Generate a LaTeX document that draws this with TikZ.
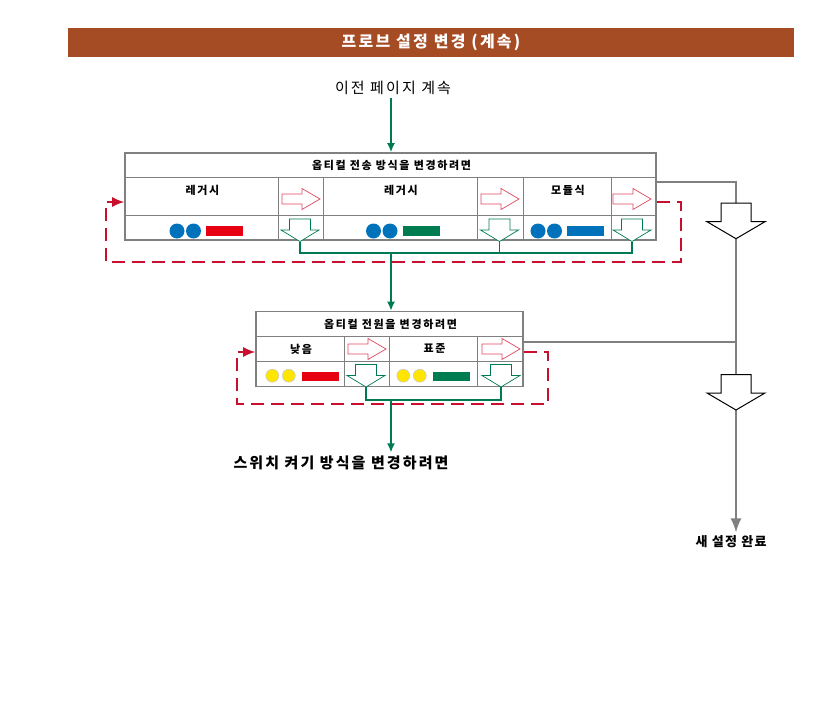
\documentclass[tikz,border=0pt]{standalone}
\usepackage{fontspec}
\setmainfont{Noto Sans CJK KR}
\usetikzlibrary{arrows.meta,positioning}
\definecolor{headerBrown}{RGB}{166,76,36}
\definecolor{boxGray}{RGB}{128,128,128}
\definecolor{hollowRed}{RGB}{222,72,96}
\definecolor{flowGreen}{RGB}{0,122,84}
\definecolor{loopRed}{RGB}{200,16,46}
\definecolor{dotBlue}{RGB}{0,114,188}
\definecolor{barRed}{RGB}{230,0,18}
\definecolor{barGreen}{RGB}{0,125,80}
\definecolor{dotYellow}{RGB}{255,230,0}

\begin{document}
\begin{tikzpicture}[
  x=1pt, y=-1pt,
  >=Latex,
  header/.style={fill=headerBrown, text=white, inner sep=0pt, minimum width=726pt,
    minimum height=29pt,
    font=\bfseries\fontsize{16}{18}\selectfont\addfontfeature{LetterSpace=14}},
  note/.style={font=\fontsize{15}{17}\selectfont\addfontfeature{LetterSpace=14}},
  bignote/.style={font=\bfseries\fontsize{15}{17}\selectfont\addfontfeature{LetterSpace=14}},
  endnote/.style={font=\bfseries\fontsize{13}{15}\selectfont\addfontfeature{LetterSpace=10}},
  panel/.style={draw=boxGray, line width=1.6pt, inner sep=0pt},
  grid/.style={draw=boxGray, line width=0.9pt},
  head/.style={font=\bfseries\fontsize{11}{13}\selectfont\addfontfeature{LetterSpace=15}},
  cell/.style={font=\bfseries\fontsize{11}{13}\selectfont\addfontfeature{LetterSpace=15}},
  link/.style={draw=flowGreen, line width=1.6pt},
  linkarrow/.style={link, -{Latex[length=9pt,width=8pt]}},
  loopback/.style={draw=loopRed, line width=1.6pt, dash pattern=on 13pt off 7pt,
    -{Latex[length=12pt,width=10pt]}},
  outlet/.style={draw=boxGray, line width=1.6pt},
  hollowR/.style={draw=hollowRed, fill=white, line width=0.7pt},
  hollowD/.style={draw=flowGreen, fill=white, line width=0.7pt},
  bigD/.style={draw=black, fill=white, line width=1pt},
  rhollow/.pic={\draw[hollowR] (-19,-5) -- (1,-5) -- (1,-10.5) -- (19,0) -- (1,10.5)
    -- (1,5) -- (-19,5) -- cycle;},
  dhollow/.pic={\draw[hollowD] (-10.5,-11) -- (10.5,-11) -- (10.5,0) -- (19,0)
    -- (0,11.5) -- (-19,0) -- (-10.5,0) -- cycle;},
  bighollow/.pic={\draw[bigD] (-15,-18.5) -- (15,-18.5) -- (15,0) -- (29,0)
    -- (0,17) -- (-29,0) -- (-15,0) -- cycle;}
]
\useasboundingbox (0,0) rectangle (839,709);

% Title bar.
\node[header] (hdr) at (431,42.5) {프로브 설정 변경 (계속)};
\node[note] (prev) at (393,88) {이전 페이지 계속};

% Transmission mode panel.
\node[panel, minimum width=531pt, minimum height=87pt] (optbox) at (390.5,196.5) {};
\draw[grid] (125,177) -- (656,177) (125,215) -- (656,215);
\foreach \gx in {278,323,477,523,611}
  \draw[grid] (\gx,177) -- (\gx,240);
\node[head] (optttl) at (391.5,165) {옵티컬 전송 방식을 변경하려면};
\node[cell] (lgc1) at (202.5,190) {레거시};
\node[cell] (lgc2) at (401,190) {레거시};
\node[cell] (mod) at (568,190) {모듈식};
\pic at (301,199) {rhollow};
\pic at (500,199) {rhollow};
\pic at (632,199) {rhollow};
\pic at (300,230) {dhollow};
\pic at (499.5,230) {dhollow};
\pic at (632,230) {dhollow};

% Indicator lamps.
\foreach \cx/\bar in {177/barRed,373.5/barGreen,538/dotBlue} {
  \fill[dotBlue] (\cx,231) circle (7.5) (\cx+16.5,231) circle (7.5);
  \fill[\bar] (\cx+29,226) rectangle (\cx+66,236);
}

% Power panel.
\node[panel, minimum width=267pt, minimum height=75pt] (pwrbox) at (389.5,349) {};
\draw[grid] (256,336.7) -- (523,336.7) (256,361.7) -- (523,361.7);
\foreach \gx in {344.3,389.3,477.7}
  \draw[grid] (\gx,336.7) -- (\gx,386.5);
\node[head] (pwrttl) at (390.5,324) {옵티컬 전원을 변경하려면};
\node[cell] (low) at (301,349) {낮음};
\node[cell] (std) at (434.5,349) {표준};
\pic at (367,349) {rhollow};
\pic at (501,349) {rhollow};
\pic at (366,375.5) {dhollow};
\pic at (501,375.5) {dhollow};
\foreach \cx/\bar in {272.3/barRed,403.3/barGreen} {
  \filldraw[fill=dotYellow, draw=black!20, line width=0.6pt]
    (\cx,375.7) circle (6.5) (\cx+16.5,375.7) circle (6.5);
  \fill[\bar] (\cx+29.5,371.5) rectangle (\cx+66.5,380.5);
}

\node[bignote] (next) at (341,463) {스위치 켜기 방식을 변경하려면};
\node[endnote] (done) at (731,542) {새 설정 완료};

% Green flow between panels.
\coordinate (t1) at (300,241.5);
\coordinate (t2) at (499.5,241.5);
\coordinate (t3) at (632,241.5);
\coordinate (j1) at (391,253);
\coordinate (u1) at (366,387);
\coordinate (u2) at (501,387);
\coordinate (j2) at (391,400);
\draw[linkarrow] (prev.south -| j1) -- (j1 |- optbox.north);
\draw[link] (t1) |- (j1) -| (t3);
\draw[link] (t2) -- (t2 |- j1);
\draw[linkarrow] (j1) -- (j1 |- pwrbox.north);
\draw[link] (u1) |- (j2) -| (u2);
\draw[linkarrow] (j2) -- (j2 |- next.north);

% Red loops back to the first choice.
\coordinate (l1) at (681,262);
\coordinate (l2) at (106,202);
\coordinate (l3) at (548,404);
\coordinate (l4) at (237,352);
\draw[loopback] (optbox.east |- l2) -| (l1) -| (l2) -- (optbox.west |- l2);
\draw[loopback] (pwrbox.east |- l4) -| (l3) -| (l4) -- (pwrbox.west |- l4);

% Gray exit path.
\coordinate (b1top) at (736,203);
\coordinate (b1tip) at (736,238.5);
\coordinate (b2top) at (736,376);
\coordinate (b2tip) at (736,410);
\draw[outlet] (optbox.east |- 0,182) -| (b1top);
\draw[outlet] (b1tip) -- (b2top);
\draw[outlet] (pwrbox.east |- 0,342) -- (b1tip |- 0,342);
\draw[outlet, -{Latex[length=14pt,width=11pt]}] (b2tip) -- (b2tip |- done.north);
\pic at (736,221.7) {bighollow};
\pic at (736,393) {bighollow};

\end{tikzpicture}
\end{document}
